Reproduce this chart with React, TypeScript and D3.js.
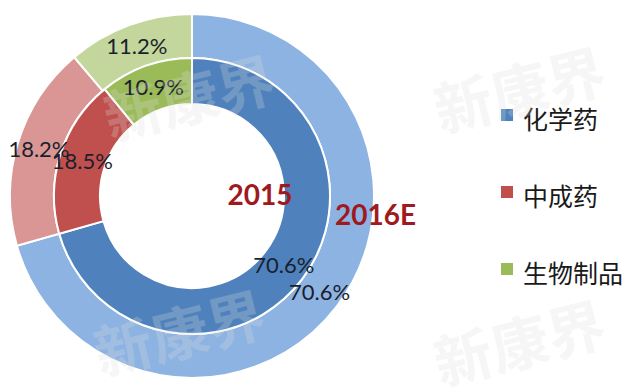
import React from 'react';
import * as d3 from 'd3';

const categories = ['化学药', '中成药', '生物制品'];
const values2015 = [70.6, 18.5, 10.9];
const values2016 = [70.6, 18.2, 11.2];
const innerColors = ['#4F81BD', '#C0504D', '#9BBB59'];
const outerColors = ['#8DB3E2', '#D99694', '#C3D69B'];
const ringLabels = ['2015', '2016E'];
const watermark = '新康界';

const W = 640;
const H = 392;
const cx = 192;
const cy = 196;

const App = () => {
  const pie = d3.pie<number>().sort(null).value(d => d);
  const innerArcs = pie(values2015);
  const outerArcs = pie(values2016);

  const innerArc = d3.arc<d3.PieArcDatum<number>>().innerRadius(92).outerRadius(138);
  const outerArc = d3.arc<d3.PieArcDatum<number>>().innerRadius(138).outerRadius(182);

  const legendY = d3.scalePoint<string>().domain(categories).range([120, 274]);

  const numFont = 'Lato, "Open Sans", sans-serif';
  const cjkFont = '"Noto Sans CJK SC", sans-serif';

  // faint watermark copies
  const marks = [
    { x: 190, y: 100 },
    { x: 180, y: 335 },
    { x: 520, y: 92 },
    { x: 520, y: 345 },
  ];

  return (
    <svg width={W} height={H} style={{ position: 'absolute', left: 0, top: 0, background: '#fff' }}>
      <g transform={`translate(${cx},${cy})`}>
        {outerArcs.map((a, i) => (
          <path key={'o' + i} d={outerArc(a) || ''} fill={outerColors[i]} stroke="#fff" strokeWidth={2} />
        ))}
        {innerArcs.map((a, i) => (
          <path key={'i' + i} d={innerArc(a) || ''} fill={innerColors[i]} stroke="#fff" strokeWidth={2} />
        ))}
        {outerArcs.map((a, i) => {
          const [x, y] = outerArc.centroid(a);
          return (
            <text key={'ol' + i} x={x} y={y} dy="0.35em" textAnchor="middle"
              fontFamily={numFont} fontSize={22} fill="#1a1f2e">
              {values2016[i].toFixed(1)}%
            </text>
          );
        })}
        {innerArcs.map((a, i) => {
          const [x, y] = innerArc.centroid(a);
          return (
            <text key={'il' + i} x={x} y={y} dy="0.35em" textAnchor="middle"
              fontFamily={numFont} fontSize={22} fill="#1a1f2e">
              {values2015[i].toFixed(1)}%
            </text>
          );
        })}
      </g>
      <text x={260} y={205} textAnchor="middle" fontFamily={numFont} fontWeight="bold" fontSize={28} fill="#9E1A1F">
        {ringLabels[0]}
      </text>
      <text x={335} y={225} textAnchor="start" fontFamily={numFont} fontWeight="bold" fontSize={28} fill="#9E1A1F">
        {ringLabels[1]}
      </text>
      {categories.map((c, i) => (
        <g key={c}>
          <rect x={501} y={(legendY(c) as number) - 11} width={12} height={12} fill={innerColors[i]} />
          <text x={523} y={legendY(c)} dy="0.35em" fontFamily={cjkFont} fontSize={25} fill="#1a1a1a">
            {c}
          </text>
        </g>
      ))}
      {marks.map((m, i) => (
        <text key={'w' + i} x={m.x} y={m.y} dy="0.35em" textAnchor="middle"
          transform={`rotate(-14 ${m.x} ${m.y})`}
          fontFamily={cjkFont} fontWeight="bold" fontSize={58} fill="#dcdcdc" opacity={0.25}>
          {watermark}
        </text>
      ))}
    </svg>
  );
};

export default App;
